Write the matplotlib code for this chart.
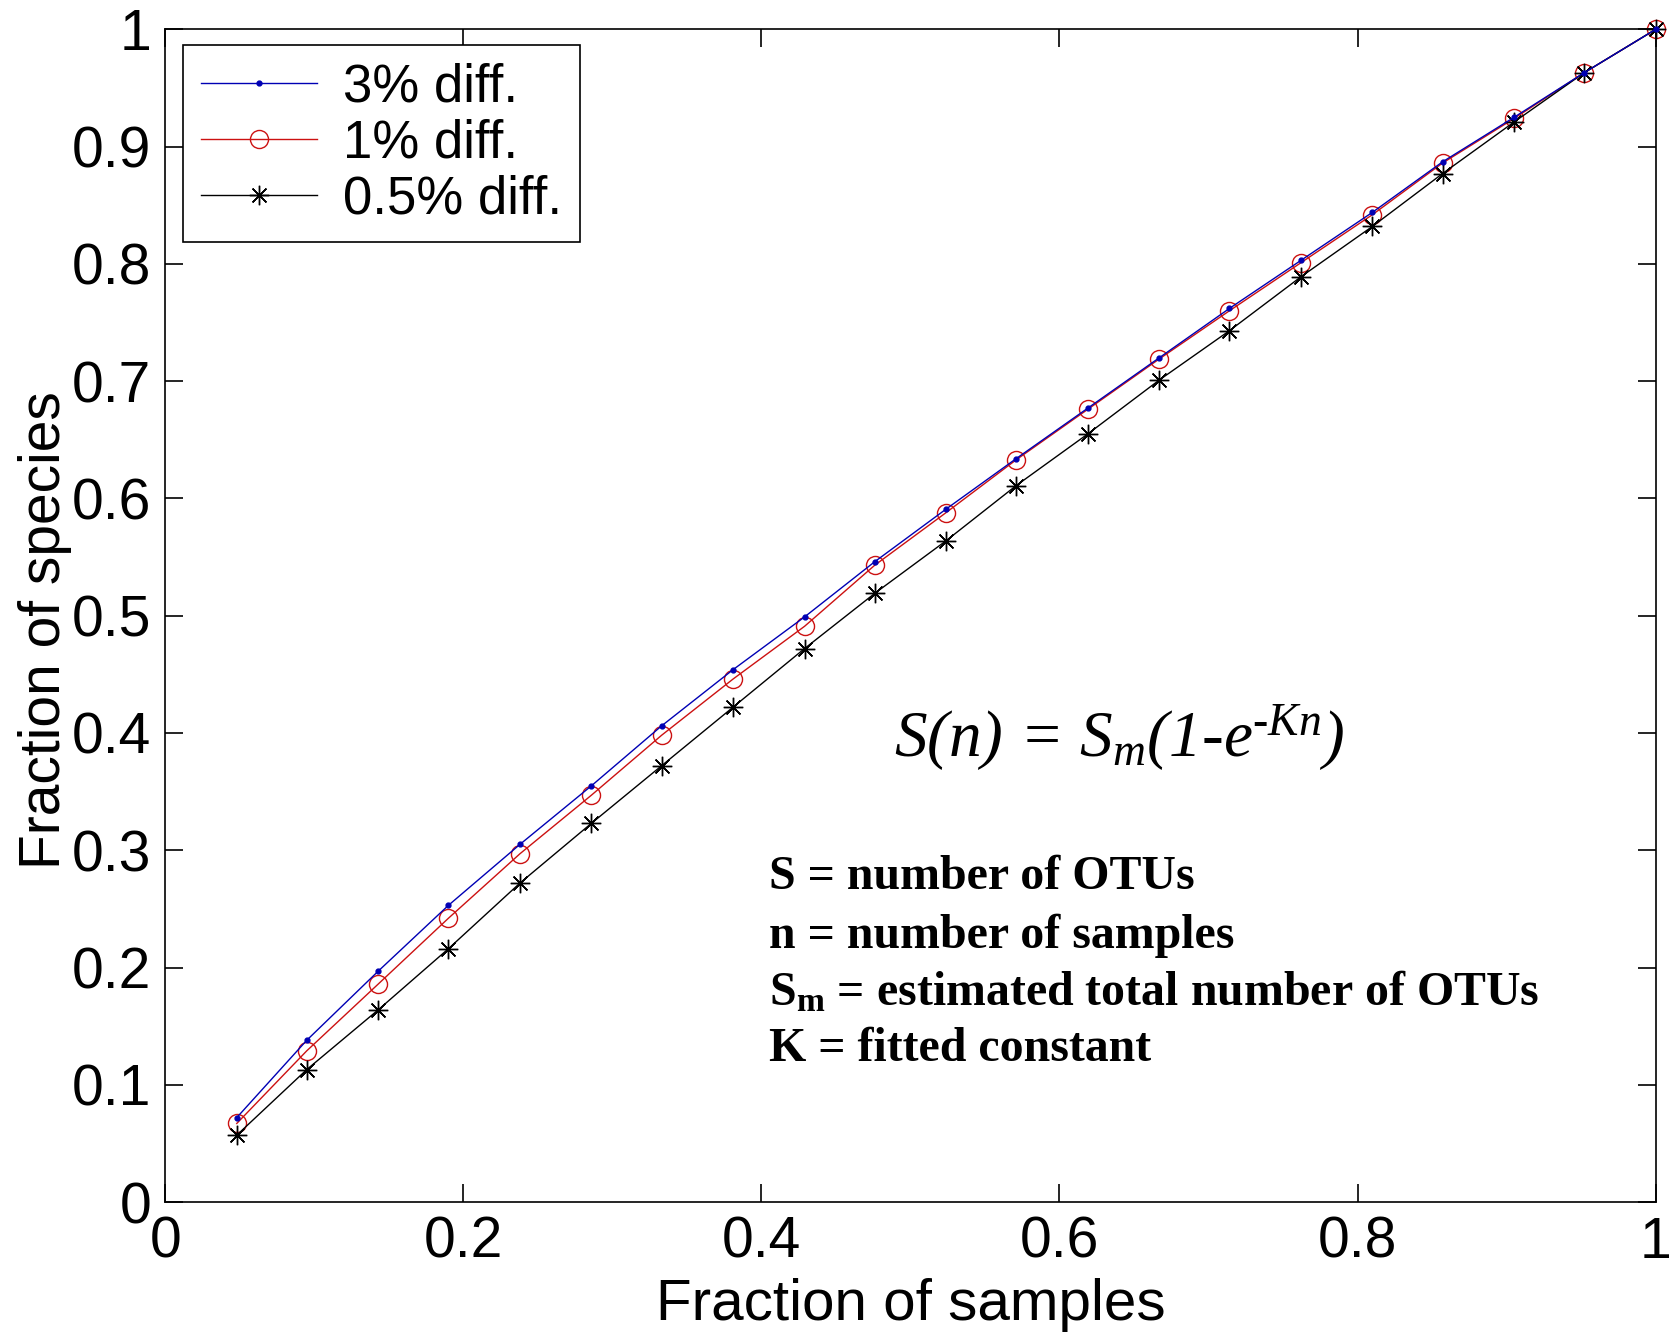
import matplotlib
matplotlib.use("Agg")
import matplotlib.pyplot as plt
from matplotlib.ticker import FormatStrFormatter

# fraction of samples (21 subsamples)
frac_samples = [0.048, 0.095, 0.143, 0.190, 0.238, 0.286, 0.333, 0.381, 0.429, 0.476,
                0.524, 0.571, 0.619, 0.667, 0.714, 0.762, 0.810, 0.857, 0.905, 0.952, 1.0]

diff3 = [0.072, 0.138, 0.197, 0.253, 0.305, 0.355, 0.406, 0.454, 0.499, 0.546,
         0.591, 0.634, 0.677, 0.720, 0.762, 0.803, 0.844, 0.887, 0.925, 0.963, 1.0]
diff1 = [0.067, 0.129, 0.186, 0.242, 0.297, 0.347, 0.398, 0.446, 0.491, 0.543,
         0.588, 0.633, 0.676, 0.719, 0.760, 0.801, 0.842, 0.886, 0.924, 0.963, 1.0]
diff05 = [0.057, 0.113, 0.164, 0.216, 0.272, 0.323, 0.372, 0.422, 0.472, 0.519,
          0.564, 0.611, 0.655, 0.701, 0.743, 0.789, 0.832, 0.877, 0.921, 0.963, 1.0]

series_labels = ['3% diff.', '1% diff.', '0.5% diff.']
xticks = [0, 0.2, 0.4, 0.6, 0.8, 1.0]
yticks = [0, 0.1, 0.2, 0.3, 0.4, 0.5, 0.6, 0.7, 0.8, 0.9, 1.0]

plt.rcParams['font.family'] = ['Liberation Sans', 'DejaVu Sans']
plt.rcParams['mathtext.fontset'] = 'custom'
plt.rcParams['mathtext.rm'] = 'Liberation Serif'
plt.rcParams['mathtext.it'] = 'Liberation Serif:italic'
plt.rcParams['mathtext.bf'] = 'Liberation Serif:bold'

fig = plt.figure(figsize=(16.69, 13.35), dpi=100)
ax = fig.add_axes((0.099, 0.0996, 0.893, 0.8784))

ax.plot(frac_samples, diff3, '-', color='#0000b4', lw=1.0, marker='.', ms=7,
        label=series_labels[0], clip_on=False, zorder=3)
ax.plot(frac_samples, diff1, '-', color='#cc1111', lw=1.0, marker='o', ms=13,
        mfc='none', mec='#cc1111', mew=1.0, label=series_labels[1], clip_on=False, zorder=2)
ax.plot(frac_samples, diff05, '-', color='black', lw=1.0, marker=(8, 2, 0), ms=14,
        mec='black', mew=1.0, label=series_labels[2], clip_on=False, zorder=2)

ax.set_xlim(0, 1)
ax.set_ylim(0, 1)
ax.set_xticks(xticks)
ax.set_yticks(yticks)
ax.xaxis.set_major_formatter(FormatStrFormatter('%g'))
ax.yaxis.set_major_formatter(FormatStrFormatter('%g'))
ax.tick_params(direction='in', length=13, width=1.2, labelsize=41, pad=10,
               top=True, right=True)
for sp in ax.spines.values():
    sp.set_linewidth(1.2)

ax.set_xlabel('Fraction of samples', fontsize=42, labelpad=6)
ax.set_ylabel('Fraction of species', fontsize=41, labelpad=0)
ax.yaxis.label.set_y(0.488)

leg = ax.legend(loc='upper left', fontsize=38, frameon=True, fancybox=False,
                edgecolor='black', framealpha=1, handlelength=2.2,
                borderpad=0.33, labelspacing=0.12, handletextpad=0.5,
                borderaxespad=0, bbox_to_anchor=(0.012, 0.987))
leg.get_frame().set_linewidth(1.2)

ax.text(0.64, 0.396, r'S(n) = S$_m$(1-e$^{\text{-}Kn}$)',
        fontsize=47, ha='center', va='center', family='Liberation Serif',
        style='italic')

info_lines = [r'S = number of OTUs', r'n = number of samples',
              r'S$_\mathbf{m}$ = estimated total number of OTUs', r'K = fitted constant']
info_y = [0.267, 0.217, 0.168, 0.120]
for t, yy in zip(info_lines, info_y):
    ax.text(0.405, yy, t, fontsize=34.5, fontweight='bold', family='Liberation Serif',
            ha='left', va='baseline')

fig.savefig('out.png', dpi=100)
